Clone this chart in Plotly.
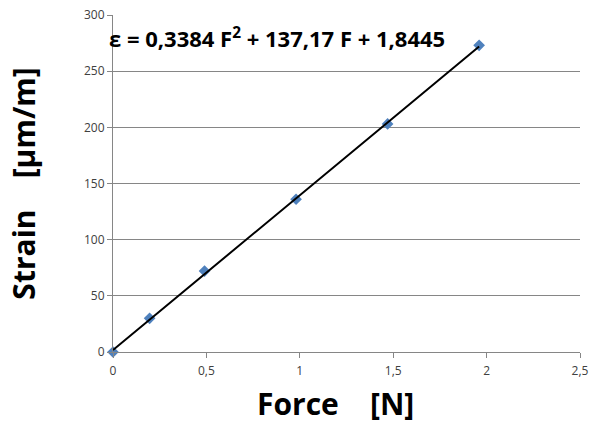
import plotly.graph_objects as go

force = [0, 0.196, 0.49, 0.98, 1.47, 1.96]
strain = [0, 30, 72, 136, 203, 273]
coef = [0.3384, 137.17, 1.8445]  # trendline coefficients shown in the equation
x_ticks = [0, 0.5, 1, 1.5, 2, 2.5]
x_ticklabels = ["0", "0,5", "1", "1,5", "2", "2,5"]
y_ticks = [0, 50, 100, 150, 200, 250, 300]

trend = [coef[0] * f ** 2 + coef[1] * f + coef[2] for f in force]

fig = go.Figure()
fig.add_trace(go.Scatter(x=force, y=strain, mode="markers",
                         marker=dict(symbol="diamond", size=9, color="#4F81BD"),
                         showlegend=False, cliponaxis=False))
fig.add_trace(go.Scatter(x=force, y=trend, mode="lines",
                         line=dict(color="black", width=2), showlegend=False))

fig.add_annotation(x=0, y=1, xref="paper", yref="paper", xanchor="left", yanchor="top",
                   xshift=-6, yshift=-5,
                   text="ε = 0,3384 F<sup>2</sup> + 137,17 F + 1,8445", showarrow=False,
                   font=dict(family="Open Sans", size=22, color="black", weight="bold"))

# x-axis title (placed as annotation to match reference offset)
fig.add_annotation(x=0.5, y=0, xref="paper", yref="paper", xanchor="center", yanchor="top",
                   xshift=-11, yshift=-29, text="Force    [N]", showarrow=False,
                   font=dict(family="Open Sans", size=30, color="black", weight="bold"))

fig.update_layout(
    width=590, height=424,
    margin=dict(l=113, r=10, t=15, b=72),
    paper_bgcolor="white", plot_bgcolor="white",
    font=dict(family="Open Sans", color="#404040"),
    xaxis=dict(range=[0, 2.5], tickvals=x_ticks, ticktext=x_ticklabels, automargin=False,
               showgrid=False, zeroline=False, showline=True, linecolor="#868686",
               linewidth=1, ticks="outside", tickcolor="#868686", ticklen=5,
               ticklabelstandoff=3,
               tickfont=dict(size=12, color="#404040")),
    yaxis=dict(range=[0, 300], tickvals=y_ticks, showgrid=True, gridcolor="#868686",
               gridwidth=1, zeroline=False, showline=True, linecolor="#868686",
               linewidth=1, ticks="outside", tickcolor="#868686", ticklen=5,
               automargin=False,
               tickfont=dict(size=12, color="#404040"),
               title=dict(text="Strain    [µm/m]", standoff=39,
                          font=dict(size=30, color="black", weight="bold"))),
)

fig.write_html("out.html", config={"displayModeBar": False},
               post_script="document.body.style.margin='0';")
